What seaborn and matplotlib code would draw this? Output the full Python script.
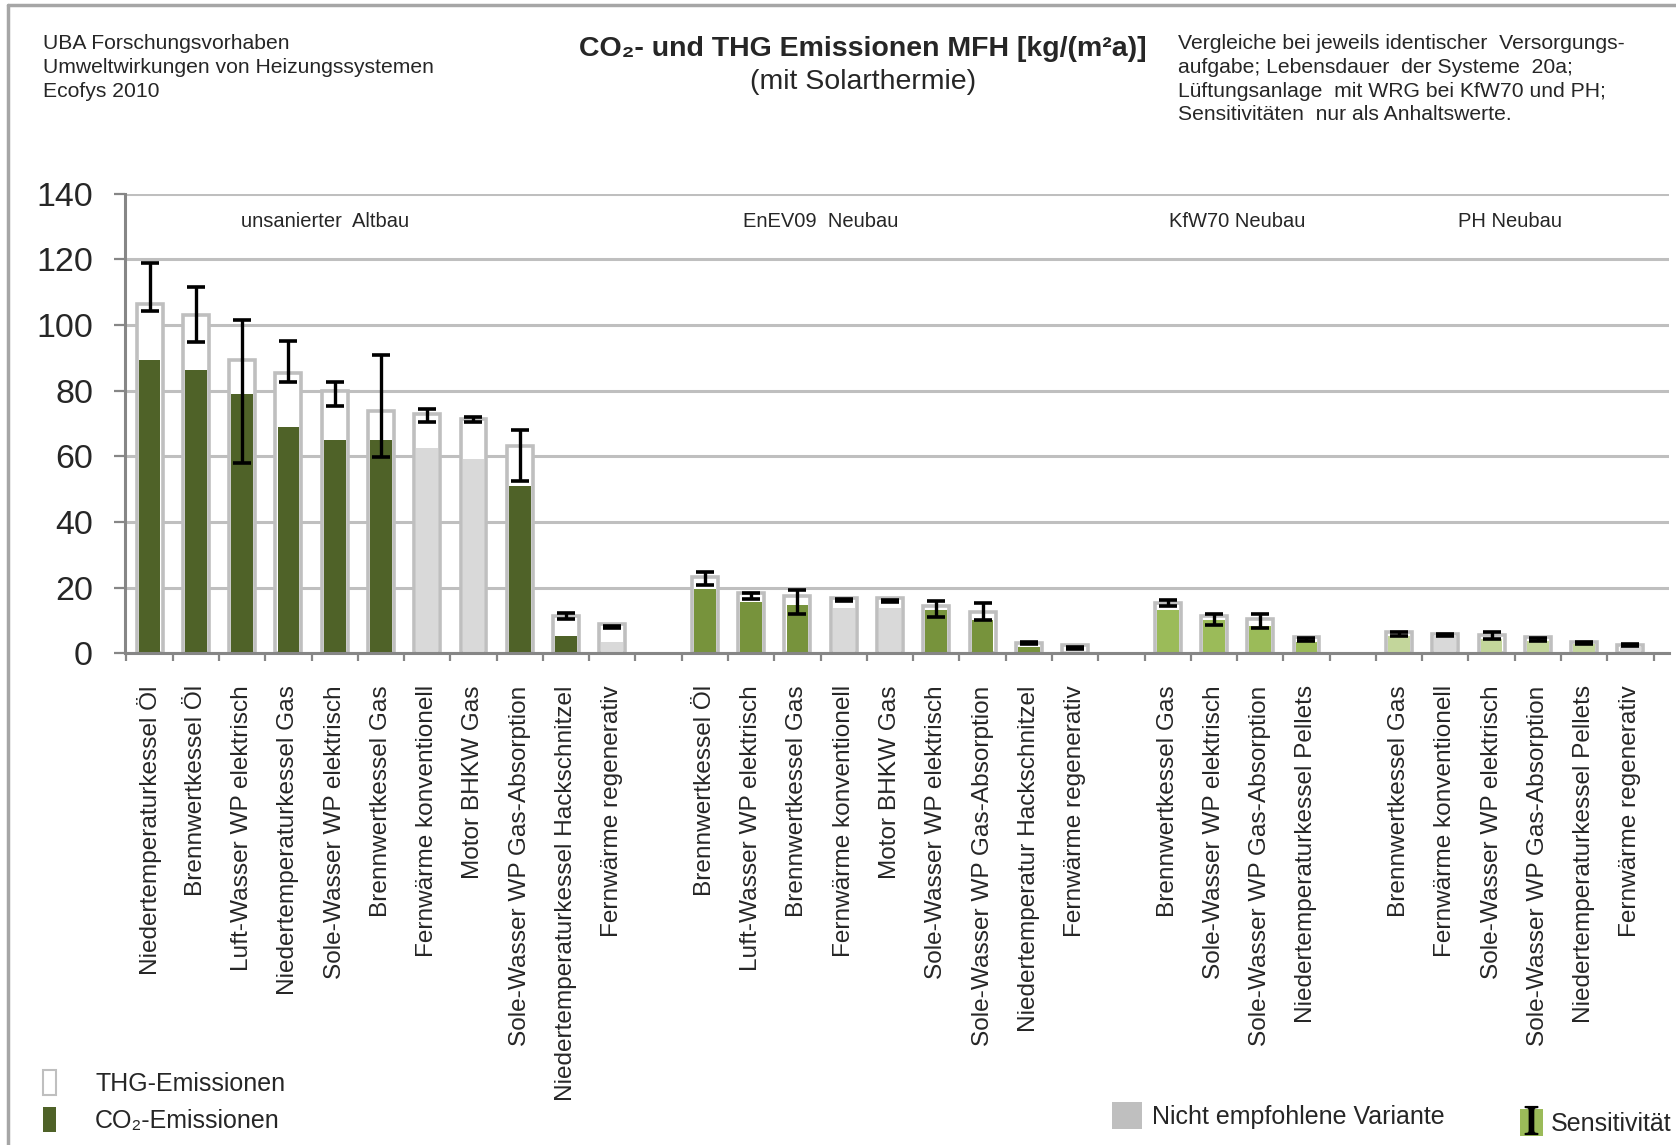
import numpy as np
import pandas as pd
import matplotlib
matplotlib.use("Agg")
import matplotlib.pyplot as plt
from matplotlib.patches import Patch
from matplotlib.lines import Line2D
import seaborn as sns

# --- DATA ---
labels_altbau = ["Niedertemperaturkessel Öl", "Brennwertkessel Öl", "Luft-Wasser WP elektrisch",
                 "Niedertemperaturkessel Gas", "Sole-Wasser WP elektrisch", "Brennwertkessel Gas",
                 "Fernwärme konventionell", "Motor BHKW Gas", "Sole-Wasser WP Gas-Absorption",
                 "Niedertemperaturkessel Hackschnitzel", "Fernwärme regenerativ"]
thg_altbau = [106.5, 103.0, 89.2, 85.2, 79.9, 73.7, 72.9, 71.2, 63.0, 11.4, 8.8]
co2_altbau = [89.4, 86.4, 79.1, 69.0, 65.0, 65.0, 62.5, 59.2, 51.0, 5.3, 3.4]
lo_altbau = [104.1, 94.9, 58.0, 82.7, 75.4, 59.7, 70.4, 70.4, 52.4, 10.6, 7.8]
hi_altbau = [118.8, 111.4, 101.6, 95.0, 82.6, 90.8, 74.4, 72.0, 67.9, 12.3, 8.2]
kind_altbau = ["alt", "alt", "alt", "alt", "alt", "alt", "grau", "grau", "alt", "alt", "grau"]

labels_enev = ["Brennwertkessel Öl", "Luft-Wasser WP elektrisch", "Brennwertkessel Gas",
               "Fernwärme konventionell", "Motor BHKW Gas", "Sole-Wasser WP elektrisch",
               "Sole-Wasser WP Gas-Absorption", "Niedertemperatur Hackschnitzel", "Fernwärme regenerativ"]
thg_enev = [23.3, 18.4, 17.6, 16.8, 16.8, 14.4, 12.7, 3.2, 2.4]
co2_enev = [19.7, 15.7, 14.7, 13.8, 13.8, 13.2, 10.0, 1.8, 0.6]
lo_enev = [20.7, 16.6, 11.9, 15.9, 15.7, 11.1, 10.3, 2.9, 1.4]
hi_enev = [24.9, 18.4, 19.2, 16.6, 16.1, 15.9, 15.2, 3.4, 1.9]
kind_enev = ["enev", "enev", "enev", "grau", "grau", "enev", "enev", "enev", "grau"]

labels_kfw = ["Brennwertkessel Gas", "Sole-Wasser WP elektrisch", "Sole-Wasser WP Gas-Absorption",
              "Niedertemperaturkessel Pellets"]
thg_kfw = [15.3, 11.3, 10.4, 4.9]
co2_kfw = [13.1, 10.0, 8.3, 3.6]
lo_kfw = [14.5, 8.6, 7.8, 3.7]
hi_kfw = [16.1, 12.1, 12.1, 4.8]
kind_kfw = ["kfw", "kfw", "kfw", "kfw"]

labels_ph = ["Brennwertkessel Gas", "Fernwärme konventionell", "Sole-Wasser WP elektrisch",
             "Sole-Wasser WP Gas-Absorption", "Niedertemperaturkessel Pellets", "Fernwärme regenerativ"]
thg_ph = [6.5, 5.8, 5.7, 4.9, 3.3, 2.5]
co2_ph = [5.3, 5.5, 4.5, 3.7, 2.8, 2.2]
lo_ph = [5.4, 5.2, 4.5, 3.7, 2.8, 2.2]
hi_ph = [6.5, 5.9, 6.5, 4.8, 3.4, 2.7]
kind_ph = ["ph", "grau", "ph", "ph", "ph", "grau"]

group_names = ["unsanierter  Altbau", "EnEV09  Neubau", "KfW70 Neubau", "PH Neubau"]

colors = {"alt": "#4f6228", "enev": "#77933c", "kfw": "#9bbb59", "ph": "#c3d69b", "grau": "#d9d9d9"}

# --- BUILDING THE TABLE (one empty slot between the groups) ---
groups = [
    (labels_altbau, thg_altbau, co2_altbau, lo_altbau, hi_altbau, kind_altbau),
    (labels_enev, thg_enev, co2_enev, lo_enev, hi_enev, kind_enev),
    (labels_kfw, thg_kfw, co2_kfw, lo_kfw, hi_kfw, kind_kfw),
    (labels_ph, thg_ph, co2_ph, lo_ph, hi_ph, kind_ph),
]
rows = []
pos = 0
for labels, thg, co2, lo, hi, kind in groups:
    for i in range(len(labels)):
        rows.append({"pos": pos, "label": labels[i], "thg": thg[i], "co2": co2[i],
                     "lo": lo[i], "hi": hi[i], "kind": kind[i]})
        pos += 1
    pos += 1  # gap
df = pd.DataFrame(rows)

# --- PLOTTING ---
sns.set_style("white")
plt.rcParams["font.family"] = ["Liberation Sans", "DejaVu Sans"]
plt.rcParams["mathtext.fontset"] = "stix"

fig = plt.figure(figsize=(16.76, 11.45), dpi=100)
ax = fig.add_axes([0.0746, 0.4294, 0.9214, 0.4016])

# THG bars: white with grey outline
sns.barplot(data=df, x="pos", y="thg", native_scale=True, color="white", saturation=1,
            edgecolor="#bfbfbf", linewidth=2.6, width=0.56, errorbar=None, ax=ax)
# CO2 bars on top
sns.barplot(data=df, x="pos", y="co2", hue="kind", palette=colors, native_scale=True,
            saturation=1, width=0.47, linewidth=0, errorbar=None, legend=False, ax=ax)

# Sensitivity ranges
mid = (df["lo"] + df["hi"]) / 2
ax.errorbar(df["pos"], mid, yerr=(df["hi"] - df["lo"]) / 2, fmt="none", ecolor="black",
            elinewidth=2.4, capsize=6.5, capthick=2.6, zorder=5)

ax.set_xlim(-0.53, 32.84)
ax.set_ylim(0, 140)
ax.set_yticks(np.arange(0, 141, 20))
ax.yaxis.grid(True, color="#bfbfbf", linewidth=2.2)
ax.set_axisbelow(True)
ax.tick_params(axis="y", labelsize=24.5, length=8, width=1.6, color="#868686", pad=15, left=True)

ax.set_xticks(df["pos"])
ax.set_xticklabels(df["label"], rotation=90, fontsize=17.6, va="top", ha="center")
ax.set_xticks(np.arange(-0.5, 33, 1), minor=True)
ax.tick_params(axis="x", which="major", length=0, pad=23)
ax.tick_params(axis="x", which="minor", length=6, width=1.6, color="#868686", bottom=True)
ax.set_xlabel("")
ax.set_ylabel("")

for side in ["top", "right"]:
    ax.spines[side].set_visible(False)
for side in ["left", "bottom"]:
    ax.spines[side].set_color("#868686")
    ax.spines[side].set_linewidth(2.2)

# Group headings inside the plot
label_x = [3.79, 14.5, 23.5, 29.4]
for name, x in zip(group_names, label_x):
    ax.text(x, 131.5, name, ha="center", va="center", fontsize=14.5)

# --- HEADER TEXTS ---
fig.text(0.0257, 0.970, "UBA Forschungsvorhaben\nUmweltwirkungen von Heizungssystemen\nEcofys 2010",
         ha="left", va="top", fontsize=15.2, linespacing=1.31)
fig.text(0.515, 0.957, "CO₂- und THG Emissionen MFH [kg/(m²a)]", ha="center", va="center",
         fontsize=20.5, fontweight="bold")
fig.text(0.515, 0.928, "(mit Solarthermie)", ha="center", va="center", fontsize=20.5)
fig.text(0.703, 0.970, "Vergleiche bei jeweils identischer  Versorgungs-\naufgabe; Lebensdauer  der Systeme  20a;\n"
         "Lüftungsanlage  mit WRG bei KfW70 und PH;\nSensitivitäten  nur als Anhaltswerte.",
         ha="left", va="top", fontsize=15.2, linespacing=1.31)

# Frame around the figure (top and left, as in the reference)
fig.add_artist(Line2D([0.0045, 1.0], [0.9957, 0.9957], color="#a6a6a6", linewidth=2.5))
fig.add_artist(Line2D([0.0045, 0.0045], [0.0, 0.9957], color="#a6a6a6", linewidth=2.5))

# --- LEGENDS ---
h_thg = Patch(facecolor="white", edgecolor="#bfbfbf", linewidth=1.5)
h_co2 = Patch(facecolor=colors["alt"], edgecolor="none")
fig.legend([h_thg, h_co2], ["THG-Emissionen", "CO₂-Emissionen"], loc="lower left",
           bbox_to_anchor=(0.012, -0.009), frameon=False, fontsize=18, handlelength=0.55,
           handleheight=1.2, handletextpad=1.55, labelspacing=0.42)

h_grey = Patch(facecolor="#bfbfbf", edgecolor="none")
fig.legend([h_grey], ["Nicht empfohlene Variante"], loc="lower left",
           bbox_to_anchor=(0.650, -0.006), frameon=False, fontsize=18, handlelength=1.2,
           handleheight=1.3, handletextpad=0.4)

h_sens = (Patch(facecolor=colors["kfw"], edgecolor="none"),
          Line2D([], [], marker=r"$\mathrm{I}$", color="black", linestyle="none", markersize=20))
fig.legend([h_sens], ["Sensitivität"], loc="lower left",
           bbox_to_anchor=(0.8935, -0.012), frameon=False, fontsize=18, handlelength=0.9,
           handleheight=1.3, handletextpad=0.35)

fig.savefig("out.png", dpi=100)
